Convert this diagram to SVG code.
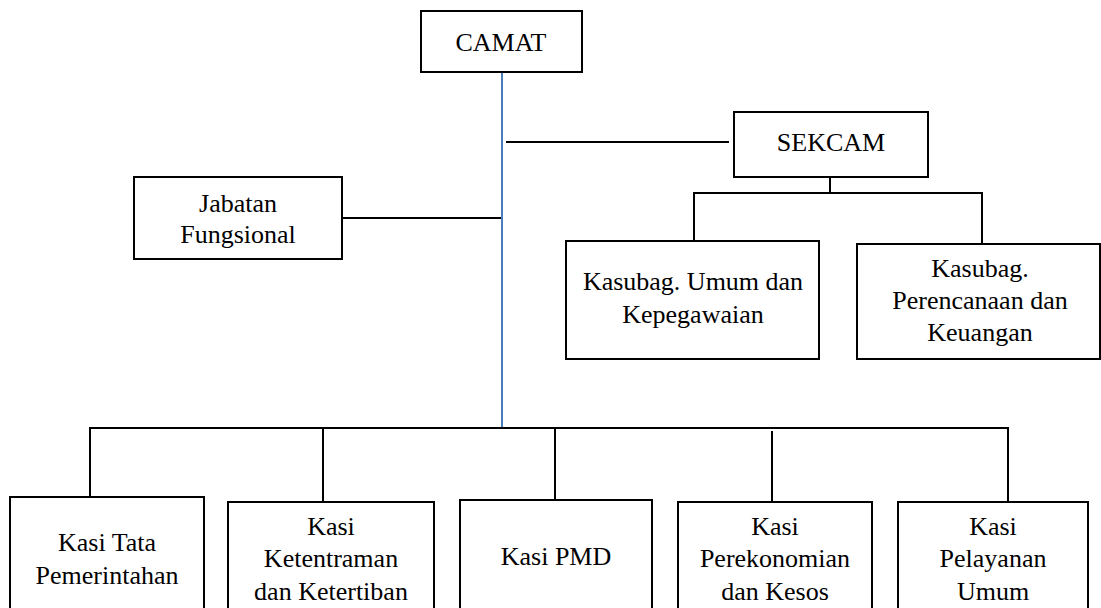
<svg xmlns="http://www.w3.org/2000/svg" width="1101" height="608" viewBox="0 0 1101 608">
<style>
.box{fill:#fff;stroke:#000;stroke-width:2}
.ln{stroke:#000;stroke-width:2;fill:none}
.blue{stroke:#4A7EBB;stroke-width:2;fill:none}
text{font-family:"Liberation Serif","DejaVu Serif",serif;font-size:26px;fill:#000;text-anchor:middle}
.big{font-size:26px}
</style>
<rect width="1101" height="608" fill="#fff"/>
<g id="connectors">
<line class="blue" x1="502" y1="72" x2="502" y2="428"/>
<line class="ln" x1="506" y1="142" x2="729" y2="142"/>
<line class="ln" x1="342" y1="218" x2="501" y2="218"/>
<line class="ln" x1="830" y1="177" x2="830" y2="193"/>
<polyline class="ln" points="694,241 694,193 982,193 982,244"/>
<polyline class="ln" points="90,497 90,428 1008,428 1008,501"/>
<line class="ln" x1="323" y1="428" x2="323" y2="501"/>
<line class="ln" x1="555" y1="428" x2="555" y2="500"/>
<line class="ln" x1="772" y1="431" x2="772" y2="501"/>
</g>
<g id="camat"><rect class="box" x="421" y="11" width="161" height="61"/><text class="big" x="501" y="51">CAMAT</text></g>
<g id="sekcam"><rect class="box" x="734" y="112" width="194" height="65"/><text class="big" x="831" y="151">SEKCAM</text></g>
<g id="jabatan"><rect class="box" x="134" y="177" width="208" height="82"/><text x="238" y="212">Jabatan</text><text x="238" y="243">Fungsional</text></g>
<g id="kasubag-umum"><rect class="box" x="566" y="241" width="253" height="118"/><text x="693" y="290">Kasubag. Umum dan</text><text x="693" y="323">Kepegawaian</text></g>
<g id="kasubag-perencanaan"><rect class="box" x="857" y="244" width="243" height="115"/><text x="980" y="277">Kasubag.</text><text x="980" y="309">Perencanaan dan</text><text x="980" y="341">Keuangan</text></g>
<g id="kasi-tata"><rect class="box" x="10" y="497" width="194" height="130"/><text x="107" y="551">Kasi Tata</text><text x="107" y="584">Pemerintahan</text></g>
<g id="kasi-ketentraman"><rect class="box" x="228" y="502" width="206" height="130"/><text x="331" y="535">Kasi</text><text x="331" y="567">Ketentraman</text><text x="331" y="600">dan Ketertiban</text></g>
<g id="kasi-pmd"><rect class="box" x="460" y="500" width="192" height="130"/><text x="556" y="565">Kasi PMD</text></g>
<g id="kasi-perekonomian"><rect class="box" x="678" y="502" width="194" height="130"/><text x="775" y="535">Kasi</text><text x="775" y="567">Perekonomian</text><text x="775" y="600">dan Kesos</text></g>
<g id="kasi-pelayanan"><rect class="box" x="898" y="502" width="190" height="130"/><text x="993" y="535">Kasi</text><text x="993" y="567">Pelayanan</text><text x="993" y="600">Umum</text></g>
</svg>
